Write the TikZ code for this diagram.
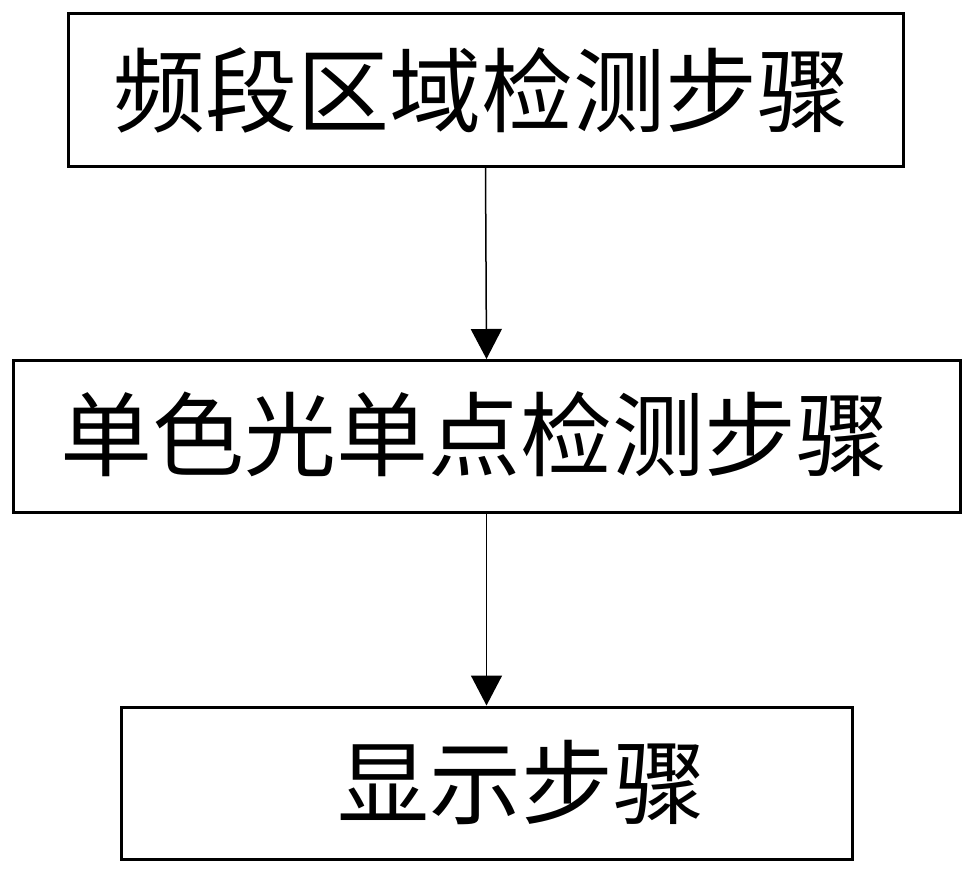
\documentclass[tikz,border=0pt]{standalone}
\usepackage{fontspec}
\newfontfamily\cjk{Noto Sans CJK SC}
\usetikzlibrary{arrows.meta}
\begin{document}
\begin{tikzpicture}[x=1pt,y=-1pt,
  stepbox/.style={draw=black,line width=3pt,inner sep=0pt,minimum height=152pt,
    font=\cjk\fontsize{92pt}{92pt}\selectfont},
  flow/.style={line width=1.5pt,-{Triangle[width=31pt,length=30pt]}}]
\useasboundingbox (0,0) rectangle (976,875);
\node[stepbox,minimum width=835pt] (b1) at (485.5,90) {};
\node at (481.5,90) [font=\cjk\fontsize{92pt}{92pt}\selectfont] (t1) {频段区域检测步骤};
\node[stepbox,minimum width=947pt] (b2) at (486.5,436.5) {};
\node at (474.5,434) [font=\cjk\fontsize{92pt}{92pt}\selectfont] (t2) {单色光单点检测步骤};
\node[stepbox,minimum width=731pt] (b3) at (486.5,783) {};
\node at (521,782) [font=\cjk\fontsize{92pt}{92pt}\selectfont] (t3) {显示步骤};
\draw[flow] (b1.south) -- (b2.north);
\draw[flow] (b2.south) -- (b3.north);
\end{tikzpicture}
\end{document}
